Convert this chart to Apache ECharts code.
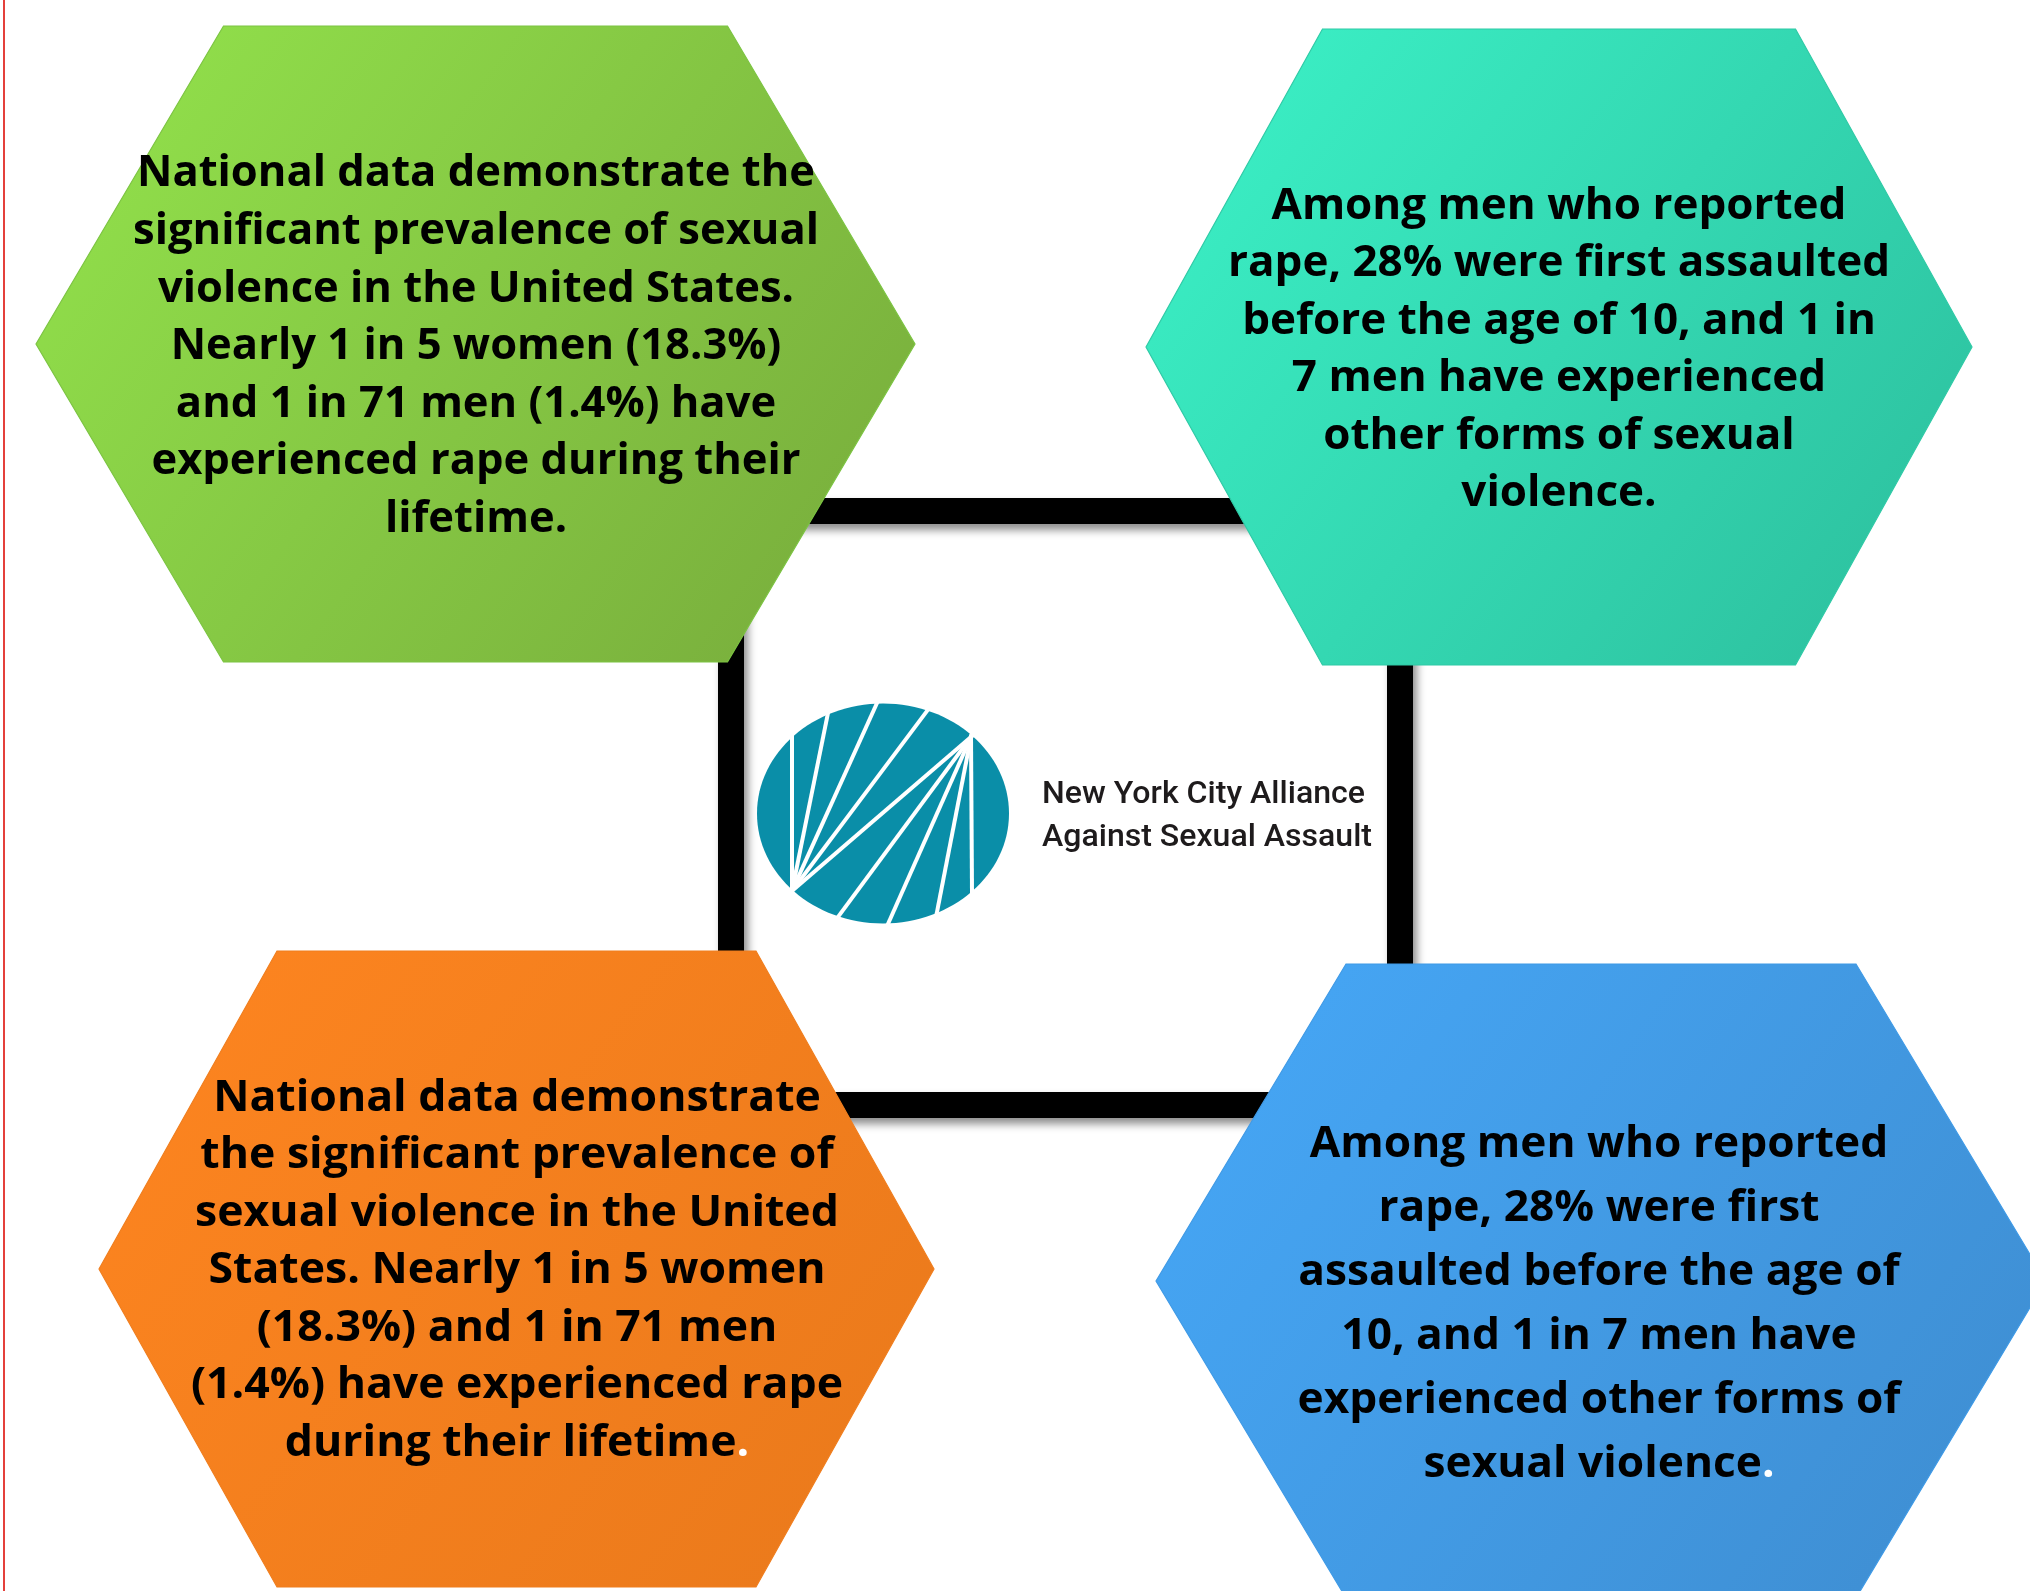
<!DOCTYPE html>
<html>
<head>
<meta charset="utf-8">
<script src="https://cdn.jsdelivr.net/npm/echarts@6/dist/echarts.min.js"></script>
<style>
  html, body { margin: 0; padding: 0; background: #fff; }
  #main { width: 2030px; height: 1591px; }
</style>
</head>
<body>
<div id="main"></div>
<script>
// panel texts, one line per entry (as broken in the original)
var panelLines = [
    ['National data demonstrate the', 'significant prevalence of sexual', 'violence in the United States.',
     'Nearly 1 in 5 women (18.3%)', 'and 1 in 71 men (1.4%) have', 'experienced rape during their', 'lifetime.'],
    ['Among men who reported', 'rape, 28% were first assaulted', 'before the age of 10, and 1 in',
     '7 men have experienced', 'other forms of sexual', 'violence.'],
    ['National data demonstrate', 'the significant prevalence of', 'sexual violence in the United',
     'States. Nearly 1 in 5 women', '(18.3%) and 1 in 71 men', '(1.4%) have experienced rape', 'during their lifetime'],
    ['Among men who reported', 'rape, 28% were first', 'assaulted before the age of',
     '10, and 1 in 7 men have', 'experienced other forms of', 'sexual violence']
];
// panels whose closing full stop is printed in white
var whiteStop = [false, false, true, true];
var logoLines = ['New York City Alliance', 'Against Sexual Assault'];

// layout of the four hexagons (page pixels)
var hexLayout = [
    {cx: 475.5, cy: 344, hw: 439.5, hh: 318, edge: 252, tx: 476, ty: 347, lh: 57.6, ref: 0, refW: 678, c0: '#93e44c', c1: '#77aa3b', line: '#7cc442'},
    {cx: 1559, cy: 347, hw: 413, hh: 318, edge: 236.5, tx: 1559, ty: 350, lh: 57.5, ref: 1, refW: 662, c0: '#3cf3c8', c1: '#2cbd9c', line: '#2fcaa6'},
    {cx: 516.5, cy: 1269, hw: 417.5, hh: 318, edge: 239.5, tx: 517, ty: 1271, lh: 57.5, ref: 5, refW: 652, c0: '#fe8520', c1: '#e9791b', line: '#f07e1e'},
    {cx: 1601, cy: 1281, hw: 445, hh: 317, edge: 255, tx: 1599, ty: 1305, lh: 64, ref: 4, refW: 603, c0: '#46a8f8', c1: '#3e8ccf', line: '#3f9ae6'}
];

var bodyFont = {size: 43, family: '"Open Sans", sans-serif', weight: 'bold'};

var measureCtx = document.createElement('canvas').getContext('2d');
function textWidth(str, font) {
    measureCtx.font = font;
    return measureCtx.measureText(str).width;
}

var myChart = echarts.init(document.getElementById('main'));

function renderHex(params, api) {
    var i = params.dataIndex;
    var L = hexLayout[i];
    var pts = [
        [L.cx - L.hw, L.cy], [L.cx - L.edge, L.cy - L.hh], [L.cx + L.edge, L.cy - L.hh],
        [L.cx + L.hw, L.cy], [L.cx + L.edge, L.cy + L.hh], [L.cx - L.edge, L.cy + L.hh]
    ].map(function (p) { return api.coord(p); });

    var txt = panelLines[i].join('\n');
    if (whiteStop[i]) txt += '{w|.}';
    var sx = L.refW / textWidth(panelLines[i][L.ref], bodyFont.weight + ' ' + bodyFont.size + 'px ' + bodyFont.family);
    var c = api.coord([L.tx, L.ty]);

    return {
        type: 'group',
        children: [{
            type: 'polygon',
            shape: {points: pts},
            style: {
                fill: {
                    type: 'linear', x: 0, y: 0, x2: 1, y2: 1,
                    colorStops: [{offset: 0, color: L.c0}, {offset: 1, color: L.c1}]
                },
                stroke: L.line,
                lineWidth: 1.2
            }
        }, {
            type: 'text',
            x: c[0],
            y: c[1],
            scaleX: sx,
            style: {
                text: txt,
                x: 0,
                y: 0,
                align: 'center',
                verticalAlign: 'middle',
                fill: '#000',
                fontSize: bodyFont.size,
                fontFamily: bodyFont.family,
                fontWeight: bodyFont.weight,
                lineHeight: L.lh,
                rich: {
                    w: {
                        fill: '#ffffff',
                        fontSize: bodyFont.size,
                        fontFamily: bodyFont.family,
                        fontWeight: bodyFont.weight,
                        lineHeight: L.lh
                    }
                }
            }
        }]
    };
}

// logo: teal oval cut by two fans of white chords
var logo = {cx: 883, cy: 813.5, rx: 126, ry: 110};
var fanBL = [792, 891], fanTR = [971, 737];
var fanBLEnds = [[792, 738], [828, 713], [877, 703], [927, 711]];
var fanTREnds = [[972, 892], [937, 912], [888, 924], [838, 917]];

function chord(a, b) {
    var dx = b[0] - a[0], dy = b[1] - a[1];
    var d = Math.sqrt(dx * dx + dy * dy);
    var e = 8 / d;
    return {
        type: 'line', z: 3,
        shape: {x1: a[0] - dx * e * 0.3, y1: a[1] - dy * e * 0.3, x2: b[0] + dx * e, y2: b[1] + dy * e},
        style: {stroke: '#fff', lineWidth: 4}
    };
}

var graphics = [
    {type: 'rect', z: 1, shape: {x: 3, y: 0, width: 2, height: 1591}, style: {fill: '#e4403b'}},
    {
        type: 'rect', z: 1,
        shape: {x: 731, y: 511, width: 669, height: 594},
        style: {
            fill: null, stroke: '#000', lineWidth: 26,
            shadowBlur: 9, shadowOffsetX: 4, shadowOffsetY: 6, shadowColor: 'rgba(0,0,0,0.45)'
        }
    },
    {type: 'ellipse', z: 2, shape: logo, style: {fill: '#0a8ea8'}}
];
fanBLEnds.forEach(function (p) { graphics.push(chord(fanBL, p)); });
fanTREnds.forEach(function (p) { graphics.push(chord(fanTR, p)); });
graphics.push(chord(fanBL, fanTR));

var logoFont = '500 31px Roboto';
var logoY = [795, 838];
logoLines.forEach(function (t, k) {
    graphics.push({
        type: 'text', z: 3,
        x: 1042, y: logoY[k],
        scaleX: [323, 330][k] / textWidth(t, logoFont),
        style: {
            text: t, x: 0, y: 0,
            align: 'left', verticalAlign: 'middle',
            fill: '#1e1b1c',
            font: logoFont
        }
    });
});

var option = {
    backgroundColor: '#fff',
    animation: false,
    grid: {left: 0, right: 0, top: 0, bottom: 0},
    xAxis: {type: 'value', min: 0, max: 2030, show: false},
    yAxis: {type: 'value', min: 0, max: 1591, inverse: true, show: false},
    graphic: graphics,
    series: [{
        type: 'custom',
        z: 10,
        clip: false,
        renderItem: renderHex,
        data: panelLines.map(function (l, i) { return [i]; })
    }]
};

myChart.setOption(option);
</script>
</body>
</html>
